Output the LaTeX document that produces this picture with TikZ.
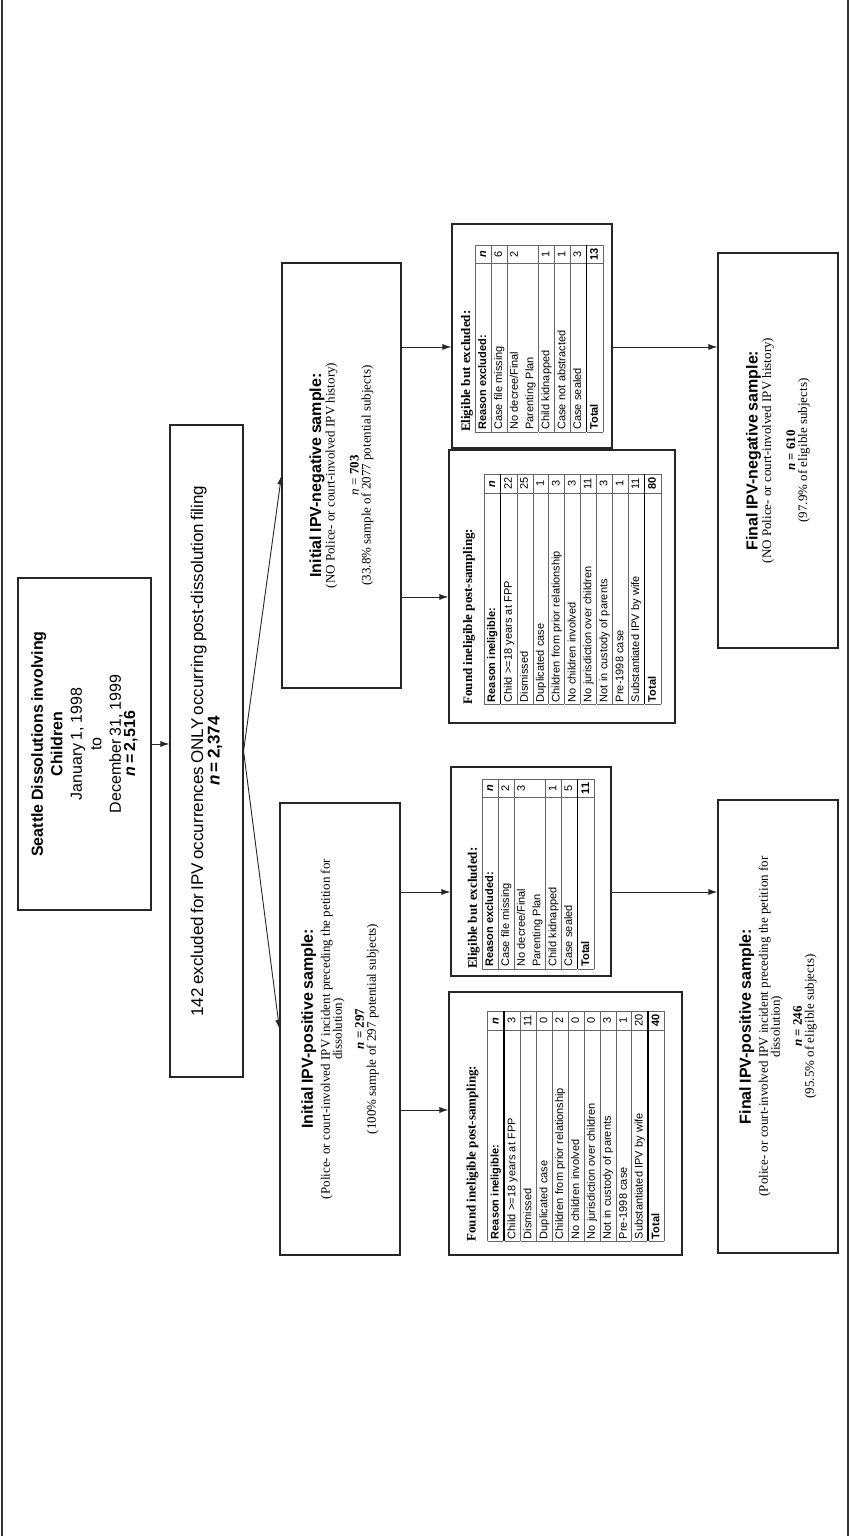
\documentclass[tikz,border=0pt]{standalone}
\usepackage{fontspec}
\usepackage[table]{xcolor}
\usepackage{array}
\usetikzlibrary{arrows.meta}
\setmainfont{Liberation Serif}
\newfontfamily\hv{Liberation Sans}
\newcolumntype{L}[1]{>{\raggedright\arraybackslash}p{#1}}
\newcolumntype{N}{>{\centering\arraybackslash}p{14pt}}
\newcommand\thk{\noalign{\hrule height 1.3pt}}
\newcommand\tf{\hv\fontsize{11}{15.5}\selectfont}
\newcommand\ttl[1]{{\fontsize{16}{19}\selectfont\hv\bfseries #1}}
\newcommand\sub{\fontsize{13}{17}\selectfont}
\begin{document}
\begin{tikzpicture}[x=1pt,y=1pt]
\tikzset{
 box/.style={draw=black!85, line width=1.1pt, rotate=90, align=center, inner sep=3pt},
 tbl/.style={draw=black!85, line width=1.1pt, rotate=90, align=left, inner sep=0pt},
 arr/.style={-{Latex[length=9pt,width=6pt]}, line width=0.9pt, draw=black!85},
 frame/.style={line width=2pt, draw=black!80}
}
\useasboundingbox (0,0) rectangle (850,1536);
\draw[frame] (2,0) -- (2,1536);
\draw[frame] (848,0) -- (848,1536);
\arrayrulecolor{black!60}
\setlength\tabcolsep{2pt}

\node[box, minimum width=332pt, minimum height=133pt, text width=322pt] (box1) at (84.5,792)
 {\hv\fontsize{16}{19.5}\selectfont\textbf{Seattle Dissolutions involving}\\\textbf{Children}\\January 1, 1998\\to\\December 31, 1999\\\textbf{\textit{n} = 2,516}};

\node[box, minimum width=652pt, minimum height=73pt, text width=640pt] (box2) at (206.5,785)
 {\hv\fontsize{17}{22}\selectfont 142 excluded for IPV occurrences ONLY occurring post-dissolution filing\\\textbf{\textit{n} = 2,374}};

\node[box, minimum width=425pt, minimum height=119pt, text width=410pt] (neg) at (341.5,1060.5)
 {\ttl{Initial IPV-negative sample:}\\{\sub(NO Police- or court-involved IPV history)}\\[12pt]{\sub\textit{n} = \textbf{703}}\\{\sub(33.8\% sample of 2077 potential subjects)}};

\node[box, minimum width=452pt, minimum height=120pt, text width=440pt] (pos) at (340,507)
 {\ttl{Initial IPV-positive sample:}\\{\sub(Police- or court-involved IPV incident preceding the petition for\\dissolution)}\\[10pt]{\sub\textbf{\textit{n} = 297}}\\{\sub(100\% sample of 297 potential subjects)}};

\node[box, minimum width=395pt, minimum height=120pt, text width=385pt] (finalneg) at (778,1085.5)
 {\ttl{Final IPV-negative sample:}\\{\sub(NO Police- or court-involved IPV history)}\\[12pt]{\sub\textbf{\textit{n} = 610}}\\{\sub(97.9\% of eligible subjects)}};

\node[box, minimum width=453pt, minimum height=120pt, text width=440pt] (finalpos) at (778,509.5)
 {\ttl{Final IPV-positive sample:}\\{\sub(Police- or court-involved IPV incident preceding the petition for\\dissolution)}\\[10pt]{\sub\textbf{\textit{n} = 246}}\\{\sub(95.5\% of eligible subjects)}};

% tables
\node[tbl, minimum width=224pt, minimum height=160pt, text width=192pt] (eligneg) at (532,1200)
 {{\fontsize{13}{15}\selectfont\bfseries Eligible but excluded:}\\[1pt]
 \tf\begin{tabular}{|L{164pt}|N|}\hline
 \textbf{Reason excluded:} & \textbf{\textit{n}}\\\hline
 Case file missing & 6\\\hline
 No decree/Final\newline Parenting Plan & 2\\\hline
 Child kidnapped & 1\\\hline
 Case not abstracted & 1\\\hline
 Case sealed & 3\\\thk
 \textbf{Total} & \textbf{13}\\\hline
 \end{tabular}};

\node[tbl, minimum width=273pt, minimum height=226pt, text width=236pt] (inelneg) at (562,949.5)
 {{\fontsize{13}{15}\selectfont\bfseries Found ineligible post-sampling:}\\[8pt]
 \tf\begin{tabular}{|L{207pt}|N|}\hline
 \textbf{Reason ineligible:} & \textbf{\textit{n}}\\\thk
 Child >=18 years at FPP & 22\\\hline
 Dismissed & 25\\\hline
 Duplicated case & 1\\\hline
 Children from prior relationship & 3\\\hline
 No children involved & 3\\\hline
 No jurisdiction over children & 11\\\hline
 Not in custody of parents & 3\\\hline
 Pre-1998 case & 1\\\hline
 Substantiated IPV by wife & 11\\\thk
 \textbf{Total} & \textbf{80}\\\hline
 \end{tabular}};

\node[tbl, minimum width=209pt, minimum height=160pt, text width=195pt] (eligpos) at (531,664.5)
 {{\fontsize{13}{15}\selectfont\bfseries Eligible but excluded:}\\[1pt]
 \tf\begin{tabular}{|L{167pt}|N|}\hline
 \textbf{Reason excluded:} & \textbf{\textit{n}}\\\hline
 Case file missing & 2\\\hline
 No decree/Final\newline Parenting Plan & 3\\\hline
 Child kidnapped & 1\\\hline
 Case sealed & 5\\\thk
 \textbf{Total} & \textbf{11}\\\hline
 \end{tabular}};

\node[tbl, minimum width=263pt, minimum height=233pt, text width=236pt] (inelpos) at (565.5,412.5)
 {{\fontsize{13}{15}\selectfont\bfseries Found ineligible post-sampling:}\\[8pt]
 \tf\begin{tabular}{|L{207pt}|N|}\hline
 \textbf{Reason ineligible:} & \textbf{\textit{n}}\\\thk
 Child >=18 years at FPP & 3\\\hline
 Dismissed & 11\\\hline
 Duplicated case & 0\\\hline
 Children from prior relationship & 2\\\hline
 No children involved & 0\\\hline
 No jurisdiction over children & 0\\\hline
 Not in custody of parents & 3\\\hline
 Pre-1998 case & 1\\\hline
 Substantiated IPV by wife & 20\\\thk
 \textbf{Total} & \textbf{40}\\\hline
 \end{tabular}};

% connectors
\draw[arr] (box1.south) -- (box1.south -| box2.north);
\draw[arr] (box2.south) -- (neg.north);
\draw[arr] (box2.south) -- (pos.north);
\draw[arr] (neg.south |- 0,1189) -- (eligneg.north |- 0,1189);
\draw[arr] (neg.south |- 0,939) -- (inelneg.north |- 0,939);
\draw[arr] (pos.south |- 0,644) -- (eligpos.north |- 0,644);
\draw[arr] (pos.south |- 0,426) -- (inelpos.north |- 0,426);
\draw[arr] (eligneg.south |- 0,1189) -- (finalneg.north |- 0,1189);
\draw[arr] (eligpos.south |- 0,644) -- (finalpos.north |- 0,644);
\end{tikzpicture}
\end{document}
